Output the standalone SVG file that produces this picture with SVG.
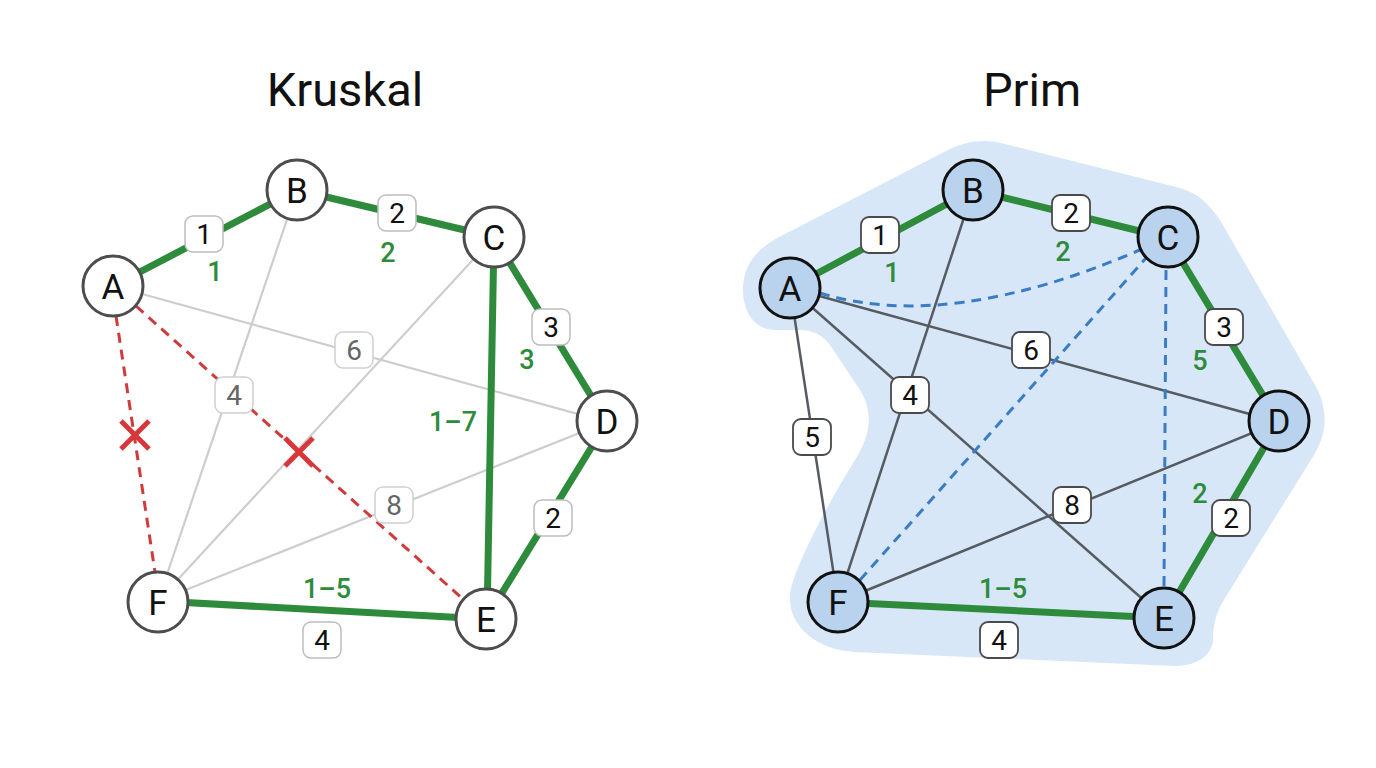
<svg xmlns="http://www.w3.org/2000/svg" width="1376" height="768" viewBox="0 0 1376 768">
<style>
text{font-family:Roboto,"Liberation Sans",Arial,sans-serif;text-anchor:middle;dominant-baseline:central}
.title{font-size:47px;fill:#111}
.nl{font-size:35px;fill:#111}
.kn{fill:#fff;stroke:#4d4d4d;stroke-width:3}
.pn{fill:#b9d2ed;stroke:#111;stroke-width:3}
.g{stroke:#2e8b3c;stroke-width:7;fill:none;stroke-linecap:round}
.lg{stroke:#cdcdcd;stroke-width:2.2;fill:none}
.dg{stroke:#565b62;stroke-width:2.5;fill:none}
.rd{stroke:#d03a3a;stroke-width:3;stroke-dasharray:10 7;fill:none}
.bd{stroke:#3b7dc4;stroke-width:3;stroke-dasharray:10 7;fill:none}
.x{stroke:#d9363a;stroke-width:5;stroke-linecap:butt}
.bx{fill:#fff;stroke:#bdbdbd;stroke-width:1.5}
.bxg{fill:#fff;stroke:#d0d0d0;stroke-width:1.5}
.bxd{fill:#fff;stroke:#4a4a4a;stroke-width:1.8}
.wt{font-size:28px;fill:#111}
.wg{font-size:28px;fill:#666}
.gl{font-size:27px;fill:#2e8b3c;font-weight:500}
</style>

<text class="title" x="345" y="89">Kruskal</text>
<text class="title" x="1032" y="89">Prim</text>

<path id="prim-region" d="M743,290 C743,262 760,246 785,234 L948,150 C965,141 985,138 1005,144 L1180,188 C1198,193 1210,205 1220,220 L1315,385 C1328,408 1328,432 1314,455 L1225,598 C1216,612 1213,625 1213,640 C1212,656 1196,666 1175,666 L855,652 C815,650 788,625 790,595 C792,570 830,500 858,455 C872,430 872,410 860,390 L830,345 C820,332 810,330 795,330 L775,330 C755,330 743,312 743,290 Z" fill="#d7e7f7"/>

<g id="connectors">
  <!-- Kruskal -->
  <line class="lg" x1="113" y1="286" x2="607" y2="422"/>
  <line class="lg" x1="494" y1="237" x2="158" y2="601"/>
  <line class="lg" x1="607" y1="422" x2="158" y2="601"/>
  <line class="lg" x1="297" y1="190" x2="158" y2="601"/>
  <line class="rd" x1="116" y1="316" x2="155" y2="572"/>
  <line class="rd" x1="136" y1="306" x2="464" y2="600"/>
  <line class="g" x1="113" y1="286" x2="297" y2="190"/>
  <line class="g" x1="297" y1="190" x2="494" y2="237"/>
  <line class="g" x1="494" y1="237" x2="607" y2="422"/>
  <line class="g" x1="494" y1="237" x2="487" y2="619"/>
  <line class="g" x1="607" y1="422" x2="486" y2="619"/>
  <line class="g" x1="158" y1="601" x2="486" y2="619"/>
  <path class="x" d="M121,421 L149,449 M149,421 L121,449"/>
  <path class="x" d="M285,438 L313,466 M313,438 L285,466"/>
  <!-- Prim -->
  <line class="dg" x1="790" y1="288" x2="838" y2="602"/>
  <line class="dg" x1="790" y1="288" x2="1164" y2="618"/>
  <line class="dg" x1="973" y1="190" x2="838" y2="602"/>
  <line class="dg" x1="790" y1="288" x2="1279" y2="422"/>
  <line class="dg" x1="1279" y1="422" x2="838" y2="602"/>
  <path class="bd" d="M820,293 Q949,333 1142,249"/>
  <line class="bd" x1="860" y1="580" x2="1146" y2="258"/>
  <line class="bd" x1="1166" y1="270" x2="1164" y2="586"/>
  <line class="g" x1="790" y1="288" x2="973" y2="190"/>
  <line class="g" x1="973" y1="190" x2="1168" y2="238"/>
  <line class="g" x1="1168" y1="238" x2="1279" y2="422"/>
  <line class="g" x1="1279" y1="422" x2="1164" y2="618"/>
  <line class="g" x1="838" y1="602" x2="1164" y2="618"/>
</g>

<g id="kruskal-weights">
  <rect class="bx" x="185" y="216" width="38" height="36" rx="8"/><text class="wt" x="204" y="234">1</text>
  <text class="gl" x="215" y="272">1</text>
  <rect class="bx" x="378" y="195" width="38" height="36" rx="8"/><text class="wt" x="397" y="213">2</text>
  <text class="gl" x="388" y="253">2</text>
  <rect class="bx" x="532" y="309" width="38" height="36" rx="8"/><text class="wt" x="551" y="327">3</text>
  <text class="gl" x="527" y="360">3</text>
  <text class="gl" x="453" y="422">1–7</text>
  <rect class="bx" x="534" y="500" width="38" height="36" rx="8"/><text class="wt" x="553" y="518">2</text>
  <text class="gl" x="327" y="589">1–5</text>
  <rect class="bx" x="303" y="622" width="38" height="36" rx="8"/><text class="wt" x="322" y="640">4</text>
  <rect class="bxg" x="335" y="332" width="38" height="36" rx="8"/><text class="wg" x="354" y="350">6</text>
  <rect class="bxg" x="215" y="377" width="38" height="36" rx="8"/><text class="wg" x="234" y="395">4</text>
  <rect class="bxg" x="375" y="487" width="38" height="36" rx="8"/><text class="wg" x="394" y="505">8</text>
</g>

<g id="prim-weights">
  <rect class="bxd" x="861" y="217" width="38" height="36" rx="8"/><text class="wt" x="880" y="235">1</text>
  <text class="gl" x="892" y="273">1</text>
  <rect class="bxd" x="1052" y="195" width="38" height="36" rx="8"/><text class="wt" x="1071" y="213">2</text>
  <text class="gl" x="1063" y="252">2</text>
  <rect class="bxd" x="1205" y="309" width="38" height="36" rx="8"/><text class="wt" x="1224" y="327">3</text>
  <text class="gl" x="1200" y="361">5</text>
  <rect class="bxd" x="1012" y="332" width="38" height="36" rx="8"/><text class="wt" x="1031" y="350">6</text>
  <rect class="bxd" x="793" y="419" width="38" height="36" rx="8"/><text class="wt" x="812" y="437">5</text>
  <rect class="bxd" x="891" y="377" width="38" height="36" rx="8"/><text class="wt" x="910" y="395">4</text>
  <rect class="bxd" x="1053" y="487" width="38" height="36" rx="8"/><text class="wt" x="1072" y="505">8</text>
  <rect class="bxd" x="1212" y="500" width="38" height="36" rx="8"/><text class="wt" x="1231" y="518">2</text>
  <text class="gl" x="1200" y="494">2</text>
  <text class="gl" x="1003" y="589">1–5</text>
  <rect class="bxd" x="980" y="622" width="38" height="36" rx="8"/><text class="wt" x="999" y="640">4</text>
</g>

<g id="k-A"><circle class="kn" cx="113" cy="286" r="30"/><text class="nl" x="113" y="287">A</text></g>
<g id="k-B"><circle class="kn" cx="297" cy="190" r="30"/><text class="nl" x="297" y="191">B</text></g>
<g id="k-C"><circle class="kn" cx="494" cy="237" r="30"/><text class="nl" x="494" y="238">C</text></g>
<g id="k-D"><circle class="kn" cx="607" cy="421" r="30"/><text class="nl" x="607" y="422">D</text></g>
<g id="k-E"><circle class="kn" cx="486" cy="619" r="30"/><text class="nl" x="486" y="620">E</text></g>
<g id="k-F"><circle class="kn" cx="158" cy="602" r="30"/><text class="nl" x="158" y="603">F</text></g>

<g id="p-A"><circle class="pn" cx="790" cy="288" r="30"/><text class="nl" x="790" y="289">A</text></g>
<g id="p-B"><circle class="pn" cx="973" cy="190" r="30"/><text class="nl" x="973" y="191">B</text></g>
<g id="p-C"><circle class="pn" cx="1168" cy="237" r="30"/><text class="nl" x="1168" y="238">C</text></g>
<g id="p-D"><circle class="pn" cx="1279" cy="421" r="30"/><text class="nl" x="1279" y="422">D</text></g>
<g id="p-E"><circle class="pn" cx="1164" cy="618" r="30"/><text class="nl" x="1164" y="619">E</text></g>
<g id="p-F"><circle class="pn" cx="838" cy="602" r="30"/><text class="nl" x="838" y="603">F</text></g>
</svg>
